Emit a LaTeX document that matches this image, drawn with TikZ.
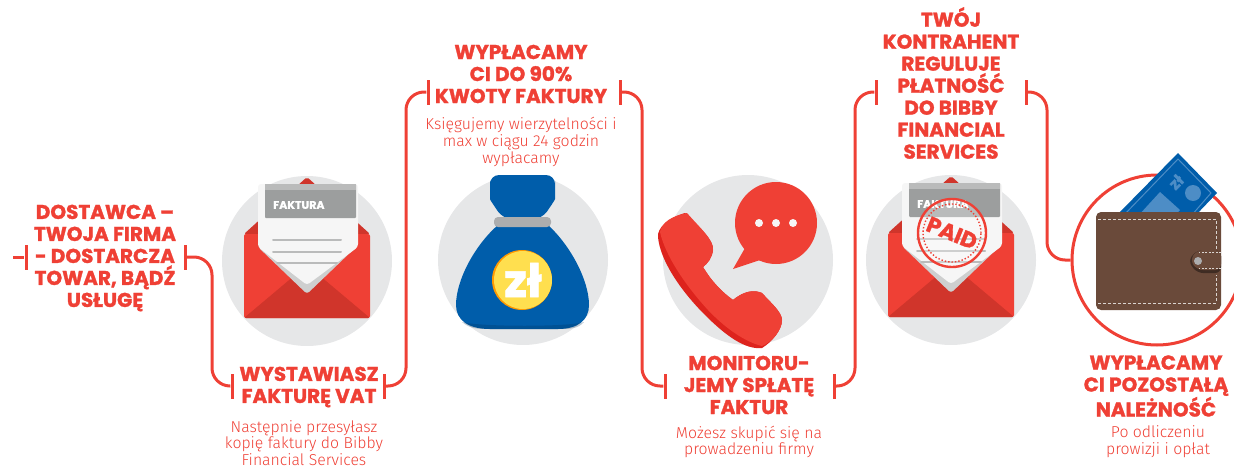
\documentclass[tikz,border=0pt]{standalone}
\usepackage{fontspec}
\setmainfont{Fira Sans Light}
\newfontfamily\headfont{Poppins}[BoldFeatures={FakeBold=1.4}]
\definecolor{ired}{HTML}{EF4035}
\definecolor{idark}{HTML}{D0352B}
\definecolor{idisc}{HTML}{E6E7E8}
\definecolor{ipaper}{HTML}{F6F6F6}
\definecolor{iband}{HTML}{9C9E9E}
\definecolor{iblue}{HTML}{005DAA}
\definecolor{ilight}{HTML}{4D8DC6}
\definecolor{ibrown}{HTML}{6A4A3A}
\definecolor{icoin}{HTML}{FFDF4F}
\tikzset{
    envelope/.pic={
        \fill[idark,rounded corners=2pt] (-63,-27) -- (0,-84) -- (63,-27) -- cycle;
        \fill[ired,rounded corners=2pt] (-63,-27) rectangle (63,57);
        \fill[idark,rounded corners=2pt] (-63,57) -- (0,4) -- (63,57) -- cycle;
        \fill[iband!50!white,rounded corners=3pt] (-49,-14) -- (0,33) -- (49,-14) -- cycle;
        \fill[ipaper,rounded corners=3pt] (-49,-77) -- (51,-77) -- (51,-14) -- (0,24) -- (-49,-14) -- cycle;
        \fill[iband,rounded corners=1pt] (-42,-77) rectangle (49,-43);
        \fill[iband!70!white] (-42,-77) rectangle (49,-71);
        \node[font=\headfont\fontsize{11}{11}\selectfont\bfseries,text=white,anchor=west,inner sep=0pt] (-faktura) at (-34,-56) {FAKTURA};
        \foreach \Level/\Half in {-21/34,-9/34,2/30}
        \draw[iband!70!white,line width=2pt,line cap=round] (-\Half,\Level) -- (\Half,\Level);
    }
}
\begin{document}
\begin{tikzpicture}[
            x=1pt,y=-1pt,
            head/.style={
            font=\headfont\fontsize{20}{22}\selectfont\bfseries,
            text=ired,
            align=center,
            inner sep=0pt
            },
            sub/.style={
            font=\fontsize{15.8}{16.8}\selectfont,
            text=ired,
            align=center,
            inner sep=0pt
            },
            disc/.style={
            circle,
            fill=idisc,
            minimum size=170pt,
            inner sep=0pt
            },
            brk/.style={
            fill=ired,
            minimum width=3pt,
            minimum height=25pt,
            inner sep=0pt
            },
            link/.style={
            draw=ired,
            line width=3pt,
            rounded corners=18pt
            }
            ]
            \useasboundingbox (0,0) rectangle (1234,466);
            \node[disc] (d1) at (307,261) {};
            \node[disc] (d2) at (523,260) {};
            \node[disc] (d3) at (748,260) {};
            \node[disc] (d4) at (951,260) {};
            \node[circle,draw=ired,line width=3pt,fill=white,minimum size=170pt,inner sep=0pt] (d5) at (1157,260) {};
            \node[head] (h1) at (105,258) {DOSTAWCA –\\TWOJA FIRMA\\- DOSTARCZA\\TOWAR, BĄDŹ\\USŁUGĘ};
            \node[head] (h2) at (309,387) {WYSTAWIASZ\\FAKTURĘ VAT};
            \node[head] (h3) at (521,74) {WYPŁACAMY\\CI DO 90\%\\KWOTY FAKTURY};
            \node[head] (h4) at (749,385) {MONITORU-\\JEMY SPŁATĘ\\FAKTUR};
            \node[head] (h5) at (951,83) {TWÓJ\\KONTRAHENT\\REGULUJE\\PŁATNOŚĆ\\DO BIBBY\\FINANCIAL\\SERVICES};
            \node[head] (h6) at (1156,386) {WYPŁACAMY\\CI POZOSTAŁĄ\\NALEŻNOŚĆ};
            \node[sub] (t2) at (304,443) {Następnie przesyłasz\\kopię faktury do Bibby\\Financial Services};
            \node[sub] (t3) at (521,142) {Księgujemy wierzytelności i\\max w ciągu 24 godzin\\wypłacamy};
            \node[sub] (t4) at (749,442) {Możesz skupić się na\\prowadzeniu firmy};
            \node[sub] (t6) at (1158,442) {Po odliczeniu\\prowizji i opłat};
            \foreach \Name/\Xpos/\Ypos in {b1l/26/257,b1r/185/257,b2l/232/386,b2r/384/386,b3l/428/92,b3r/620/92,b4l/665/386,b4r/834/386,b5l/876/92,b5r/1026/92}
            \node[brk] (\Name) at (\Xpos,\Ypos) {};
            \coordinate (start) at (13,257);
            \draw[link] (start) -- (b1l);
            \draw[link] (b1r) -- ++(27,0) |- (b2l);
            \draw[link] (b2r) -- ++(22,0) |- (b3l);
            \draw[link] (b3r) -- ++(22,0) |- (b4l);
            \draw[link] (b4r) -- ++(21,0) |- (b5l);
            \draw[link] (b5r) -- ++(21,0) |- (d5.west);
            \pic at (307,261) {envelope};
            \pic at (951,260) {envelope};
            % stamp
            \node[circle,draw=ired,line width=2.4pt,fill=white,fill opacity=.3,draw opacity=1,minimum size=68pt,inner sep=0pt] (stamp) at (952,233) {};
            \node[circle,draw=ired,line width=1.4pt,dotted,minimum size=58pt,inner sep=0pt] (ring) at (952,233) {};
            \node[font=\headfont\fontsize{22}{22}\selectfont\bfseries,text=ired,rotate=-22,inner sep=0pt] (paid) at (952,233) {PAID};
            % bag
            \fill[iblue,rounded corners=9pt] (503,219) .. controls (497,210) and (490,200) .. (490,190) -- (490,175) -- (555,175) -- (555,190) .. controls (555,200) and (548,210) .. (542,219) -- cycle;
            \fill[iblue] (498,225) .. controls (475,245) and (456,280) .. (456,305) .. controls (456,320) and (468,329) .. (490,329) -- (558,329) .. controls (578,329) and (589,320) .. (589,305) .. controls (589,280) and (570,245) .. (548,225) -- cycle;
            \fill[black!50!iblue,opacity=.25] (462,322) .. controls (470,329) and (478,329) .. (490,329) -- (558,329) .. controls (570,329) and (578,329) .. (584,322) .. controls (570,327) and (480,327) .. (462,322) -- cycle;
            \fill[black!25!idisc,rounded corners=4pt] (494,217) rectangle (551,227);
            \node[circle,fill=orange!80!yellow,minimum size=60pt,inner sep=0pt] (coinb) at (522,280) {};
            \node[circle,fill=icoin,minimum size=58pt,inner sep=0pt,text=white,font=\headfont\fontsize{46}{46}\selectfont\bfseries] (coin) at (523,280) {zł};
            % phone
            \fill[ired!60!red!90!black] (658,237) .. controls (657,228) and (668,218) .. (685,213) .. controls (700,228) and (714,240) .. (713,250) .. controls (712,258) and (708,263) .. (703,267) .. controls (712,282) and (722,292) .. (733,300) .. controls (745,290) and (755,290) .. (762,293) .. controls (770,302) and (782,312) .. (782,320) .. controls (782,330) and (772,342) .. (762,348) .. controls (745,350) and (725,335) .. (705,315) .. controls (680,290) and (660,260) .. (658,237) -- cycle;
            \fill[ired] (660,232) .. controls (662,222) and (672,216) .. (687,213) .. controls (700,228) and (714,240) .. (713,250) .. controls (712,258) and (708,263) .. (703,267) .. controls (712,282) and (722,292) .. (733,300) .. controls (745,290) and (755,290) .. (762,293) .. controls (770,302) and (782,312) .. (782,320) .. controls (782,330) and (772,342) .. (762,346) .. controls (745,342) and (725,328) .. (708,310) .. controls (685,285) and (665,255) .. (660,232) -- cycle;
            % bubble
            \fill[ired] (745,248) -- (733,269) -- (760,260) -- cycle;
            \node[circle,fill=ired,minimum size=82pt,inner sep=0pt] (bubble) at (776,223) {};
            \foreach \Xpos in {759,776,793}
            \fill[ipaper] (\Xpos,223) circle (4);
            % banknote
            \fill[iblue] (1178,153) -- (1217,193) -- (1195,216) -- (1116,216) -- cycle;
            \draw[ilight,line width=1pt] (1178,159) -- (1211,193) -- (1191,216) -- (1123,216) -- cycle;
            \fill[ilight] (1160,192) -- (1180,210) -- (1174,216) -- (1138,216) -- cycle;
            \fill[ilight] (1193,193) circle (8);
            \node[font=\headfont\fontsize{16}{16}\selectfont\bfseries,text=ilight,rotate=45,inner sep=0pt] (zl) at (1176,182) {zł};
            % wallet
            \fill[ibrown,rounded corners=5pt] (1096,212) rectangle (1221,310);
            \draw[ipaper!80!ibrown,line width=.8pt,dash pattern=on 3pt off 2pt] (1098,219) -- (1216,219) -- (1216,250);
            \draw[ipaper!80!ibrown,line width=.8pt,dash pattern=on 3pt off 2pt] (1098,303) -- (1216,303) -- (1216,275);
            \fill[ibrown!60!black,rounded corners=6pt] (1221,250) -- (1197,250) -- (1188,261) -- (1197,273) -- (1221,273) -- cycle;
            \fill[ibrown,rounded corners=6pt] (1221,250) -- (1197,250) -- (1190,260) -- (1197,270) -- (1221,270) -- cycle;
            \draw[ipaper!80!ibrown,line width=.6pt,dash pattern=on 2pt off 1.5pt] (1221,252) -- (1199,252);
            \draw[ipaper!80!ibrown,line width=.6pt,dash pattern=on 2pt off 1.5pt] (1221,268) -- (1199,268);
            \fill[black!25!idisc] (1198,261) circle (4);
        \end{tikzpicture}
\end{document}
